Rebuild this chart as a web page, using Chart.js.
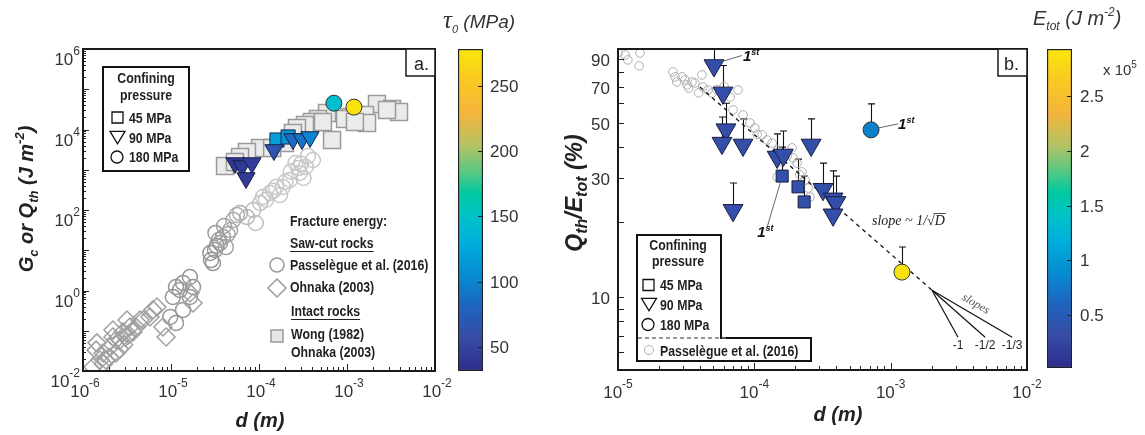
<!DOCTYPE html>
<html>
<head>
<meta charset="utf-8">
<script src="https://cdn.jsdelivr.net/npm/chart.js@4.4.1/dist/chart.umd.min.js"></script>
<style>
  html, body { margin: 0; padding: 0; background: #fff; }
  #wrap { position: relative; width: 1145px; height: 435px; overflow: hidden; }
  canvas { position: absolute; left: 0; top: 0; }
</style>
</head>
<body>
<div id="wrap">
  <canvas id="cbA" width="1145" height="435"></canvas>
  <canvas id="cbB" width="1145" height="435"></canvas>
  <canvas id="chartA" width="1145" height="435"></canvas>
  <canvas id="chartB" width="1145" height="435"></canvas>
</div>
<script>
// ---------- axis / colorbar ticks ----------
const xExpA = [-6, -5, -4, -3, -2];
const yExpA = [-2, 0, 2, 4, 6];
const xExpB = [-5, -4, -3, -2];
const yTicksB = [10, 30, 50, 70, 90];
const cbTicksA = [50, 100, 150, 200, 250];
const cbTicksB = [0.5, 1, 1.5, 2, 2.5];
const cbRangeA = [31.6, 278];
const cbRangeB = [0.016, 2.93];

// ---------- panel a : fracture energy ----------
// Passelègue et al. (2016), saw-cut
const passA_d = [4.1e-4, 3.4e-4, 2.9e-4, 2.6e-4, 3.2e-4, 2.25e-4, 1.87e-4, 1.56e-4, 1.33e-4, 1.11e-4, 1.73e-4, 1.03e-4,
  8.6e-5, 7.3e-5, 9.2e-5, 6.1e-5, 5.1e-5, 5.6e-5, 4.7e-5, 3.9e-5, 3.6e-5, 3.16e-5, 2.85e-5, 3.2e-5, 4.2e-5, 2.8e-5,
  3.0e-5, 1.64e-5, 1.37e-5, 1.14e-5, 1.05e-5, 1.37e-5, 1.14e-5, 9.8e-6, 1.78e-5, 1.26e-5, 1.64e-5,
  3.6e-4, 2.8e-4, 2.3e-4, 3.0e-4, 2.0e-4, 1.45e-4, 1.2e-4, 3.5e-5, 4.4e-5, 3.3e-5, 4.0e-5];
const passA_g = [1750, 1170, 830, 1470, 624, 556, 372, 372, 264, 210, 236, 149,
  100, 67, 47.5, 84, 56.5, 75, 31.8, 21.3, 15.1, 10.1, 5.7, 26.9, 12, 8.55,
  4.8, 2.16, 1.53, 1.22, 0.69, 0.33, 0.156, 0.22, 1.22, 1.03, 0.69,
  2200, 1100, 900, 1400, 500, 300, 180, 18, 25, 13, 40];
// Ohnaka (2003), saw-cut
const ohnA_d = [1.30e-6, 1.41e-6, 1.56e-6, 1.69e-6, 1.82e-6, 2.03e-6, 2.19e-6, 2.37e-6, 2.37e-6, 2.63e-6, 2.85e-6,
  3.08e-6, 3.42e-6, 3.70e-6, 4.0e-6, 4.44e-6, 4.81e-6, 5.77e-6, 6.24e-6, 6.93e-6, 8.1e-6, 8.8e-6, 1.64e-5, 1.78e-5,
  1.44e-6, 2.19e-6, 3.16e-6, 1.7e-6, 2.0e-6, 2.6e-6, 2.9e-6, 3.3e-6];
const ohnA_g = [0.0126, 0.033, 0.0187, 0.028, 0.0187, 0.039, 0.07, 0.059, 0.028, 0.059, 0.093,
  0.07, 0.124, 0.093, 0.124, 0.185, 0.185, 0.22, 0.33, 0.39, 0.124, 0.07, 0.87, 0.49,
  0.05, 0.104, 0.185, 0.015, 0.022, 0.035, 0.045, 0.08];
// Wong (1982) / Ohnaka (2003), intact
const wongA_d = [2.19e-3, 3.24e-3, 3.9e-3, 2.85e-3, 1.08e-3, 1.33e-3, 9.5e-4, 1.6e-3, 1.69e-3, 5.93e-4, 4.68e-4,
  4.0e-4, 3.33e-4, 2.7e-4, 2.43e-4, 6.76e-4, 1.97e-4, 1.03e-4, 7.3e-5, 6.1e-5, 4.11e-5, 5.33e-5, 1.23e-3, 5.33e-4, 1.41e-4];
const wongA_g = [43000, 32300, 27200, 30500, 20500, 16300, 18200, 22900, 14500, 25700, 18200,
  15300, 12900, 10900, 8180, 5480, 4620, 3470, 2760, 2070, 1240, 1560, 15300, 15300, 3470];
// this study, Q_th, coloured by tau_0 (MPa)
const triA_d = [5.33e-5, 6.41e-5, 8.32e-5, 7.12e-5, 1.48e-4, 2.43e-4, 3.08e-4, 3.8e-4];
const triA_g = [1470, 1240, 1470, 624, 3100, 5800, 5800, 6520];
const triA_tau = [40, 40, 44, 42, 66, 86, 90, 100];
const sqA_d = [1.60e-4, 2.14e-4];
const sqA_g = [5480, 6520];
const sqA_tau = [118, 112];
const cirA_d = [7.1e-4, 1.2e-3];
const cirA_g = [4.5e4, 3.6e4];
const cirA_tau = [145, 275];

// ---------- panel b : Q_th / E_tot ----------
const passB_d = [1.0e-5, 1.13e-5, 1.18e-5, 1.45e-5, 1.43e-5, 2.53e-5, 2.62e-5, 2.95e-5, 3.10e-5, 3.21e-5, 3.49e-5, 3.67e-5,
  4.13e-5, 4.20e-5, 4.57e-5, 4.90e-5, 6.64e-5, 7.59e-5, 6.98e-5, 8.26e-5, 9.29e-5, 1.01e-4, 1.14e-4, 1.24e-4, 1.35e-4,
  1.49e-4, 1.68e-4, 1.89e-4, 1.92e-4, 2.06e-4, 2.24e-4, 2.36e-4, 2.48e-4, 2.56e-4, 1.47e-4,
  2.7e-5, 3.3e-5, 3.9e-5, 5.3e-5, 6.0e-5, 1.05e-4, 1.6e-4, 1.75e-4, 2.15e-4];
const passB_q = [95.5, 93.7, 89.5, 95.5, 84.7, 80.1, 76.5, 76.5, 74.4, 71.0, 73.0, 72.3,
  77.9, 69.7, 67.8, 65.9, 63.5, 67.8, 56.4, 53.8, 50.0, 47.7, 44.8, 42.7, 41.5,
  38.9, 36.5, 39.7, 36.2, 34.5, 31.8, 29.5, 27.4, 25.2, 30.3,
  73, 69, 66, 68, 70, 45, 35, 37, 31];
const triB_d = [5.06e-5, 5.89e-5, 6.19e-5, 5.79e-5, 8.26e-5, 6.98e-5, 1.47e-4, 1.63e-4, 2.61e-4, 3.19e-4, 3.78e-4, 3.97e-4, 3.78e-4];
const triB_q = [85, 66, 47, 41.5, 40.8, 22.3, 36.5, 37.2, 40.8, 27.1, 24.8, 24.0, 21.4];
const triB_err = [110, 85, 60, 52.8, 51.9, 28.7, 45.2, 46.4, 51.9, 34.5, 32.1, 30.6, null];
const triB_e = [0.35, 0.35, 0.35, 0.35, 0.35, 0.35, 0.35, 0.35, 0.35, 0.35, 0.35, 0.35, 0.35];
const sqB_d = [1.60e-4, 2.09e-4, 2.32e-4];
const sqB_q = [30.6, 27.7, 24.1];
const sqB_err = [40.0, 35.8, 30.6];
const sqB_e = [0.38, 0.38, 0.38];
const cirB_d = [7.18e-4, 1.21e-3];
const cirB_q = [46.9, 12.6];
const cirB_err = [59.6, 15.9];
const cirB_e = [0.8, 2.9];
// fitted trend and slope guide
const fitB_d = [3.99e-5, 2.01e-3];
const fitB_q = [69.7, 10.66];
const slopeB_d0 = 2.01e-3;
const slopeB_q0 = 10.66;
const slopeB_d1 = [3.12e-3, 4.93e-3, 7.78e-3];
const slopeB_q1 = 6.9;
const slopeB_lab = ['-1', '-1/2', '-1/3'];

// ---------- colormap (parula-like) ----------
const cmap = [
  [0.00, 45, 45, 140], [0.10, 55, 75, 165], [0.20, 30, 100, 190], [0.30, 5, 140, 210],
  [0.40, 0, 175, 220], [0.48, 0, 195, 200], [0.55, 0, 200, 160], [0.62, 90, 200, 130],
  [0.70, 180, 195, 100], [0.80, 245, 180, 60], [0.90, 250, 200, 35], [1.00, 250, 230, 10]
];
function cmapColor(t) {
  t = Math.max(0, Math.min(1, t));
  for (let i = 1; i < cmap.length; i++) {
    if (t <= cmap[i][0]) {
      const a = cmap[i - 1], b = cmap[i];
      const f = (t - a[0]) / (b[0] - a[0]);
      return 'rgb(' + [1, 2, 3].map(k => Math.round(a[k] + f * (b[k] - a[k]))).join(',') + ')';
    }
  }
  return 'rgb(250,230,10)';
}
const colorOf = (v, r) => cmapColor((v - r[0]) / (r[1] - r[0]));
const pts = (xs, ys) => xs.map((x, i) => ({ x: x, y: ys[i] }));

// ---------- text helpers ----------
const SANS = "'Liberation Sans', Arial, Helvetica, sans-serif";
const SERIF = "'Liberation Serif', 'Times New Roman', serif";
const F = (size, style) => (style ? style + ' ' : '') + size + 'px ' + SANS;

function rich(ctx, parts, x, y, align) {
  let w = 0;
  parts.forEach(p => { ctx.font = p.f; w += ctx.measureText(p.t).width * (p.sq || 1); });
  let cx = align === 'center' ? x - w / 2 : (align === 'right' ? x - w : x);
  ctx.textAlign = 'left';
  ctx.textBaseline = 'alphabetic';
  parts.forEach(p => {
    ctx.font = p.f;
    const pw = ctx.measureText(p.t).width * (p.sq || 1);
    ctx.fillText(p.t, cx, y + (p.dy || 0), pw);
    cx += pw;
  });
  return w;
}
function expLabel(ctx, e, x, y, align) {
  rich(ctx, [{ t: '10', f: F(17) }, { t: String(e), f: F(12), dy: -10 }], x, y, align);
}
// condensed bold legend text
function legText(ctx, text, x, y, align) {
  return rich(ctx, [{ t: text, f: F(14, 'bold'), sq: 0.88 }], x, y, align || 'left');
}
function firstLabel(ctx, x, y) {
  rich(ctx, [{ t: '1', f: F(15, 'italic bold') }, { t: 'st', f: F(9, 'italic bold'), dy: -6 }], x, y, 'left');
}
function marker(ctx, kind, x, y, s) {
  ctx.beginPath();
  if (kind === 'square') ctx.rect(x - s / 2, y - s / 2, s, s);
  else if (kind === 'circle') ctx.arc(x, y, s / 2, 0, Math.PI * 2);
  else if (kind === 'tri') { ctx.moveTo(x - s / 2, y - s * 0.38); ctx.lineTo(x + s / 2, y - s * 0.38); ctx.lineTo(x, y + s * 0.45); ctx.closePath(); }
  else if (kind === 'diamond') { ctx.moveTo(x, y - s / 2); ctx.lineTo(x + s / 2, y); ctx.lineTo(x, y + s / 2); ctx.lineTo(x - s / 2, y); ctx.closePath(); }
  ctx.fill();
  ctx.stroke();
}
function decades(lo, hi) {
  const out = [];
  for (let e = Math.floor(Math.log10(lo)); e <= Math.ceil(Math.log10(hi)); e++) {
    for (let m = 1; m < 10; m++) {
      const v = m * Math.pow(10, e);
      if (v >= lo * 0.999 && v <= hi * 1.001) out.push({ v: v, major: m === 1 });
    }
  }
  return out;
}

// ---------- error bars (panel b) ----------
const errorBars = {
  id: 'errorBars',
  beforeDatasetsDraw(chart) {
    const { ctx, chartArea: a } = chart;
    const ys = chart.scales.y;
    ctx.save();
    ctx.beginPath();
    ctx.rect(a.left, a.top, a.right - a.left, a.bottom - a.top);
    ctx.clip();
    ctx.strokeStyle = '#111';
    ctx.lineWidth = 1.1;
    chart.data.datasets.forEach((ds, di) => {
      if (!ds.errTop) return;
      const meta = chart.getDatasetMeta(di);
      ds.errTop.forEach((v, i) => {
        if (v == null) return;
        const el = meta.data[i];
        const yt = ys.getPixelForValue(v);
        const x = Math.round(el.x) + 0.5;
        ctx.beginPath();
        ctx.moveTo(x, el.y);
        ctx.lineTo(x, yt);
        ctx.moveTo(x - 3.5, yt);
        ctx.lineTo(x + 3.5, yt);
        ctx.stroke();
      });
    });
    ctx.restore();
  }
};

// ---------- panel a decorations ----------
const decorA = {
  id: 'decorA',
  afterDraw(chart) {
    const { ctx, chartArea: a } = chart;
    const xs = chart.scales.x, ys = chart.scales.y;
    ctx.save();
    ctx.strokeStyle = '#222';
    ctx.lineWidth = 1;
    ctx.beginPath();
    decades(xs.min, xs.max).forEach(t => {
      const px = Math.round(xs.getPixelForValue(t.v)) + 0.5;
      ctx.moveTo(px, a.bottom);
      ctx.lineTo(px, a.bottom - (t.major ? 7 : 4));
    });
    decades(ys.min, ys.max).forEach(t => {
      const py = Math.round(ys.getPixelForValue(t.v)) + 0.5;
      ctx.moveTo(a.left, py);
      ctx.lineTo(a.left + (t.major ? 6 : 3), py);
    });
    ctx.stroke();
    ctx.lineWidth = 2;
    ctx.strokeStyle = '#1a1a1a';
    ctx.strokeRect(a.left, a.top, a.right - a.left, a.bottom - a.top);

    ctx.fillStyle = '#333';
    xExpA.forEach(e => expLabel(ctx, e, xs.getPixelForValue(Math.pow(10, e)) + 2, 397, 'center'));
    yExpA.forEach(e => expLabel(ctx, e, 80, ys.getPixelForValue(Math.pow(10, e)) + 16, 'right'));

    // axis titles
    ctx.fillStyle = '#222';
    rich(ctx, [{ t: 'd (m)', f: F(20, 'italic bold') }], 260, 427, 'center');
    ctx.save();
    ctx.translate(33, 199);
    ctx.rotate(-Math.PI / 2);
    rich(ctx, [
      { t: 'G', f: F(20, 'italic bold') }, { t: 'c', f: F(13, 'italic bold'), dy: 5 },
      { t: ' or Q', f: F(20, 'italic bold') }, { t: 'th', f: F(13, 'italic bold'), dy: 5 },
      { t: ' (J m', f: F(20, 'italic bold') }, { t: '-2', f: F(13, 'italic bold'), dy: -9 },
      { t: ')', f: F(20, 'italic bold') }
    ], 0, 0, 'center');
    ctx.restore();

    // "a." box
    ctx.fillStyle = '#fff';
    ctx.fillRect(406, a.top, a.right - 406, 27);
    ctx.lineWidth = 1.5;
    ctx.strokeRect(406, a.top, a.right - 406, 27);
    ctx.fillStyle = '#222';
    rich(ctx, [{ t: 'a.', f: F(18) }], 414, 70, 'left');

    // confining pressure legend
    ctx.fillStyle = '#fff';
    ctx.fillRect(103, 67, 86, 104);
    ctx.lineWidth = 2;
    ctx.strokeStyle = '#111';
    ctx.strokeRect(103, 67, 86, 104);
    ctx.fillStyle = '#231f20';
    legText(ctx, 'Confining', 146, 83, 'center');
    legText(ctx, 'pressure', 146, 100, 'center');
    legText(ctx, '45 MPa', 129, 123);
    legText(ctx, '90 MPa', 129, 143);
    legText(ctx, '180 MPa', 129, 162);
    ctx.fillStyle = 'rgba(0,0,0,0)';
    ctx.strokeStyle = '#111';
    ctx.lineWidth = 1.3;
    marker(ctx, 'square', 117.5, 117.5, 11);
    marker(ctx, 'tri', 117.5, 137, 15);
    marker(ctx, 'circle', 117, 157, 12);

    // fracture energy legend
    ctx.fillStyle = '#231f20';
    legText(ctx, 'Fracture energy:', 290, 226);
    let w = legText(ctx, 'Saw-cut rocks', 290, 248);
    ctx.strokeStyle = '#231f20';
    ctx.lineWidth = 1;
    ctx.beginPath(); ctx.moveTo(290, 251.5); ctx.lineTo(290 + w, 251.5); ctx.stroke();
    legText(ctx, 'Passelègue et al. (2016)', 290, 270);
    legText(ctx, 'Ohnaka (2003)', 290, 292);
    w = legText(ctx, 'Intact rocks', 291, 316);
    ctx.beginPath(); ctx.moveTo(291, 319.5); ctx.lineTo(291 + w, 319.5); ctx.stroke();
    legText(ctx, 'Wong (1982)', 291, 339);
    legText(ctx, 'Ohnaka (2003)', 291, 357);
    ctx.strokeStyle = '#9a9a9a';
    ctx.lineWidth = 1.5;
    ctx.fillStyle = 'rgba(0,0,0,0)';
    marker(ctx, 'circle', 277, 265, 14);
    marker(ctx, 'diamond', 277, 288, 18);
    ctx.fillStyle = '#e6e6e6';
    marker(ctx, 'square', 277, 336, 12);
    ctx.restore();
  }
};

// ---------- panel b decorations ----------
const decorB = {
  id: 'decorB',
  afterDatasetsDraw(chart) {
    // "1st" annotations
    const { ctx } = chart;
    const links = [
      { ds: 'tri', i: 0, p1: [8, -4], p2: [28, -10], lab: [29, -5] },
      { ds: 'sq', i: 0, p1: [-2, 7], p2: [-15, 51], lab: [-25, 61] },
      { ds: 'cir', i: 0, p1: [8, -2], p2: [27, -6], lab: [27, -1] }
    ];
    ctx.save();
    links.forEach(l => {
      const di = chart.data.datasets.findIndex(d => d.key === l.ds);
      const el = chart.getDatasetMeta(di).data[l.i];
      ctx.strokeStyle = '#555';
      ctx.lineWidth = 0.9;
      ctx.beginPath();
      ctx.moveTo(el.x + l.p1[0], el.y + l.p1[1]);
      ctx.lineTo(el.x + l.p2[0], el.y + l.p2[1]);
      ctx.stroke();
      ctx.fillStyle = '#111';
      firstLabel(ctx, el.x + l.lab[0], el.y + l.lab[1]);
    });
    // slope guide labels
    const xs = chart.scales.x, ys = chart.scales.y;
    ctx.fillStyle = '#222';
    slopeB_d1.forEach((d, i) => {
      rich(ctx, [{ t: slopeB_lab[i], f: F(12) }], xs.getPixelForValue(d), ys.getPixelForValue(slopeB_q1) + 12, 'center');
    });
    const x0 = xs.getPixelForValue(slopeB_d0), y0 = ys.getPixelForValue(slopeB_q0);
    const x3 = xs.getPixelForValue(slopeB_d1[2]), y3 = ys.getPixelForValue(slopeB_q1);
    ctx.save();
    ctx.translate((x0 + x3) / 2 + 2, (y0 + y3) / 2 - 7);
    ctx.rotate(Math.atan2(y3 - y0, x3 - x0));
    ctx.fillStyle = '#555';
    rich(ctx, [{ t: 'slopes', f: 'italic 12px ' + SERIF }], 0, 0, 'center');
    ctx.restore();
    // trend label
    ctx.fillStyle = '#222';
    ctx.font = 'italic 14px ' + SERIF;
    const lead = 'slope ~ 1/\u221A';
    const wl = ctx.measureText(lead).width;
    const wd = ctx.measureText('D').width;
    ctx.textAlign = 'left';
    ctx.fillText(lead + 'D', 872, 225);
    ctx.strokeStyle = '#222';
    ctx.lineWidth = 0.8;
    ctx.beginPath();
    ctx.moveTo(872 + wl - 1, 213.5);
    ctx.lineTo(872 + wl + wd + 1, 213.5);
    ctx.stroke();
    ctx.restore();
  },
  afterDraw(chart) {
    const { ctx, chartArea: a } = chart;
    const xs = chart.scales.x, ys = chart.scales.y;
    ctx.save();
    ctx.strokeStyle = '#222';
    ctx.lineWidth = 1;
    ctx.beginPath();
    decades(xs.min, xs.max).forEach(t => {
      const px = Math.round(xs.getPixelForValue(t.v)) + 0.5;
      ctx.moveTo(px, a.bottom);
      ctx.lineTo(px, a.bottom - (t.major ? 7 : 4));
    });
    decades(ys.min, ys.max).forEach(t => {
      const py = Math.round(ys.getPixelForValue(t.v)) + 0.5;
      ctx.moveTo(a.left, py);
      ctx.lineTo(a.left + 6, py);
    });
    ctx.stroke();
    ctx.lineWidth = 2;
    ctx.strokeStyle = '#1a1a1a';
    ctx.strokeRect(a.left, a.top, a.right - a.left, a.bottom - a.top);

    ctx.fillStyle = '#333';
    xExpB.forEach(e => expLabel(ctx, e, xs.getPixelForValue(Math.pow(10, e)), 398, 'center'));
    yTicksB.forEach(v => rich(ctx, [{ t: String(v), f: F(17) }], 610, ys.getPixelForValue(v) + 7, 'right'));

    ctx.fillStyle = '#222';
    rich(ctx, [{ t: 'd (m)', f: F(20, 'italic bold') }], 838, 421, 'center');
    ctx.save();
    ctx.translate(582, 193);
    ctx.rotate(-Math.PI / 2);
    rich(ctx, [
      { t: 'Q', f: F(23, 'italic bold') }, { t: 'th', f: F(16, 'italic bold'), dy: 5 },
      { t: '/E', f: F(23, 'italic bold') }, { t: 'tot', f: F(16, 'italic bold'), dy: 5 },
      { t: ' (%)', f: F(23, 'italic bold') }
    ], 0, 0, 'center');
    ctx.restore();

    // "b." box
    ctx.fillStyle = '#fff';
    ctx.fillRect(998, a.top, a.right - 998, 27);
    ctx.lineWidth = 1.5;
    ctx.strokeStyle = '#1a1a1a';
    ctx.strokeRect(998, a.top, a.right - 998, 27);
    ctx.fillStyle = '#222';
    rich(ctx, [{ t: 'b.', f: F(18) }], 1004, 70, 'left');

    // legend
    ctx.fillStyle = '#fff';
    ctx.beginPath();
    ctx.moveTo(637, 235); ctx.lineTo(721, 235); ctx.lineTo(721, 338); ctx.lineTo(811, 338);
    ctx.lineTo(811, 361); ctx.lineTo(637, 361); ctx.closePath();
    ctx.fill();
    ctx.lineWidth = 2;
    ctx.strokeStyle = '#111';
    ctx.stroke();
    ctx.save();
    ctx.setLineDash([4, 3]);
    ctx.strokeStyle = '#777';
    ctx.lineWidth = 1.3;
    ctx.beginPath(); ctx.moveTo(638, 338); ctx.lineTo(727, 338); ctx.stroke();
    ctx.restore();
    ctx.fillStyle = '#231f20';
    legText(ctx, 'Confining', 678, 250, 'center');
    legText(ctx, 'pressure', 678, 266, 'center');
    legText(ctx, '45 MPa', 660, 290);
    legText(ctx, '90 MPa', 660, 310);
    legText(ctx, '180 MPa', 660, 330);
    legText(ctx, 'Passelègue et al. (2016)', 660, 356);
    ctx.fillStyle = 'rgba(0,0,0,0)';
    ctx.strokeStyle = '#111';
    ctx.lineWidth = 1.3;
    marker(ctx, 'square', 648.5, 285, 11);
    marker(ctx, 'tri', 649, 304, 15);
    marker(ctx, 'circle', 648, 324.5, 12);
    ctx.strokeStyle = '#b0b0b0';
    ctx.lineWidth = 1;
    marker(ctx, 'circle', 649, 350, 9);
    ctx.restore();
  }
};

// ---------- colorbar decorations ----------
function colorbarDecor(id, ticks, labelX, title) {
  return {
    id: id,
    afterDraw(chart) {
      const { ctx, chartArea: a } = chart;
      const ys = chart.scales.y;
      ctx.save();
      ctx.strokeStyle = '#222';
      ctx.lineWidth = 1;
      ctx.beginPath();
      ticks.forEach(v => {
        const py = Math.round(ys.getPixelForValue(v)) + 0.5;
        ctx.moveTo(a.right - 1, py);
        ctx.lineTo(a.right - 5, py);
      });
      ctx.stroke();
      ctx.fillStyle = '#333';
      ticks.forEach(v => rich(ctx, [{ t: String(v), f: F(17) }], labelX, ys.getPixelForValue(v) + 6, 'left'));
      title(ctx);
      ctx.restore();
    }
  };
}

Chart.defaults.font.family = SANS;

const baseOpts = (pad, xs, ys) => ({
  responsive: false,
  animation: false,
  devicePixelRatio: 1,
  events: [],
  layout: { padding: pad },
  plugins: { legend: { display: false }, tooltip: { enabled: false } },
  scales: { x: xs, y: ys }
});

// ---------- panel a ----------
const greyFade = ctx => {
  const raw = ctx.raw;
  if (!raw) return '#999';
  const g = Math.round(Math.max(150, Math.min(200, 150 + (Math.log10(raw.x) + 4.55) * 80)));
  return 'rgb(' + g + ',' + g + ',' + g + ')';
};

new Chart(document.getElementById('chartA'), {
  type: 'scatter',
  data: {
    datasets: [
      { data: pts(wongA_d, wongA_g), pointStyle: 'rect', pointRadius: 12, backgroundColor: '#ebebeb',
        borderColor: '#9a9a9a', borderWidth: 1.5, order: 50 },
      { data: pts(passA_d, passA_g), pointStyle: 'circle', pointRadius: 7.5, backgroundColor: 'rgba(0,0,0,0)',
        borderColor: greyFade, borderWidth: 1.5, order: 40 },
      { data: pts(ohnA_d, ohnA_g), pointStyle: 'rectRot', pointRadius: 9, backgroundColor: 'rgba(0,0,0,0)',
        borderColor: '#a0a0a0', borderWidth: 1.5, order: 30 },
      { data: pts(sqA_d, sqA_g), pointStyle: 'rect', pointRadius: 10,
        backgroundColor: sqA_tau.map(v => colorOf(v, cbRangeA)), borderColor: '#1e2a50', borderWidth: 1, order: 20 },
      { data: pts(triA_d, triA_g), pointStyle: 'triangle', rotation: 180, pointRadius: 10.5,
        backgroundColor: triA_tau.map(v => colorOf(v, cbRangeA)), borderColor: '#1a1f48', borderWidth: 1, order: 15 },
      { data: pts(cirA_d, cirA_g), pointStyle: 'circle', pointRadius: 8,
        backgroundColor: cirA_tau.map(v => colorOf(v, cbRangeA)), borderColor: '#333', borderWidth: 1, order: 10 }
    ]
  },
  options: baseOpts({ left: 83, top: 49, right: 710, bottom: 64 },
    { type: 'logarithmic', display: false, min: 1e-6, max: 1e-2 },
    { type: 'logarithmic', display: false, min: 1e-2, max: 1e6 }),
  plugins: [decorA]
});

// ---------- panel b ----------
new Chart(document.getElementById('chartB'), {
  type: 'scatter',
  data: {
    datasets: [
      { data: pts(passB_d, passB_q), pointStyle: 'circle', pointRadius: 4.3, backgroundColor: 'rgba(0,0,0,0)',
        borderColor: '#adadad', borderWidth: 1, order: 50 },
      { data: pts(fitB_d, fitB_q), showLine: true, pointRadius: 0, borderColor: '#111', borderWidth: 1.3,
        borderDash: [4, 4], order: 45 },
      ...slopeB_d1.map(d => ({ data: pts([slopeB_d0, d], [slopeB_q0, slopeB_q1]), showLine: true, pointRadius: 0,
        borderColor: '#111', borderWidth: 1.2, order: 44 })),
      { key: 'tri', data: pts(triB_d, triB_q), errTop: triB_err, pointStyle: 'triangle', rotation: 180, pointRadius: 11.5,
        backgroundColor: triB_e.map(v => colorOf(v, cbRangeB)), borderColor: '#1c1c40', borderWidth: 1, order: 20 },
      { key: 'sq', data: pts(sqB_d, sqB_q), errTop: sqB_err, pointStyle: 'rect', pointRadius: 8.5,
        backgroundColor: sqB_e.map(v => colorOf(v, cbRangeB)), borderColor: '#1c1c40', borderWidth: 1, order: 15 },
      { key: 'cir', data: pts(cirB_d, cirB_q), errTop: cirB_err, pointStyle: 'circle', pointRadius: 8,
        backgroundColor: cirB_e.map(v => colorOf(v, cbRangeB)), borderColor: '#333', borderWidth: 1, order: 10 }
    ]
  },
  options: baseOpts({ left: 618, top: 49, right: 118, bottom: 65 },
    { type: 'logarithmic', display: false, min: 1e-5, max: 1e-2 },
    { type: 'logarithmic', display: false, min: 5.1, max: 99 }),
  plugins: [errorBars, decorB]
});

// ---------- colorbars ----------
const gradientFill = c => {
  const chart = c.chart;
  const ar = chart.chartArea;
  if (!ar) return null;
  const g = chart.ctx.createLinearGradient(0, ar.bottom, 0, ar.top);
  cmap.forEach(s => g.addColorStop(s[0], 'rgb(' + s[1] + ',' + s[2] + ',' + s[3] + ')'));
  return g;
};
function colorbar(id, range, pad, decor) {
  return new Chart(document.getElementById(id), {
    type: 'bar',
    data: {
      labels: [''],
      datasets: [{ data: [[range[0], range[1]]], backgroundColor: gradientFill, borderColor: '#222',
        borderWidth: 1.5, borderSkipped: false, barPercentage: 1, categoryPercentage: 1 }]
    },
    options: baseOpts(pad, { display: false }, { display: false, min: range[0], max: range[1] }),
    plugins: [decor]
  });
}

colorbar('cbA', cbRangeA, { left: 458, top: 49, right: 662, bottom: 64 },
  colorbarDecor('cbDecorA', cbTicksA, 490, ctx => {
    ctx.fillStyle = '#333';
    rich(ctx, [
      { t: '\u03C4', f: 'italic 25px ' + SERIF }, { t: '0', f: F(11, 'italic'), dy: 5 },
      { t: ' (MPa)', f: F(19, 'italic') }
    ], 443, 28, 'left');
  }));

colorbar('cbB', cbRangeB, { left: 1047, top: 49, right: 73, bottom: 67 },
  colorbarDecor('cbDecorB', cbTicksB, 1080, ctx => {
    ctx.fillStyle = '#333';
    rich(ctx, [
      { t: 'E', f: F(20, 'italic') }, { t: 'tot', f: F(12, 'italic'), dy: 5 },
      { t: ' (J m', f: F(20, 'italic') }, { t: '-2', f: F(12, 'italic'), dy: -9 },
      { t: ')', f: F(20, 'italic') }
    ], 1033, 25, 'left');
    rich(ctx, [{ t: 'x 10', f: F(15) }, { t: '5', f: F(10), dy: -7 }], 1103, 75, 'left');
  }));
</script>
</body>
</html>
